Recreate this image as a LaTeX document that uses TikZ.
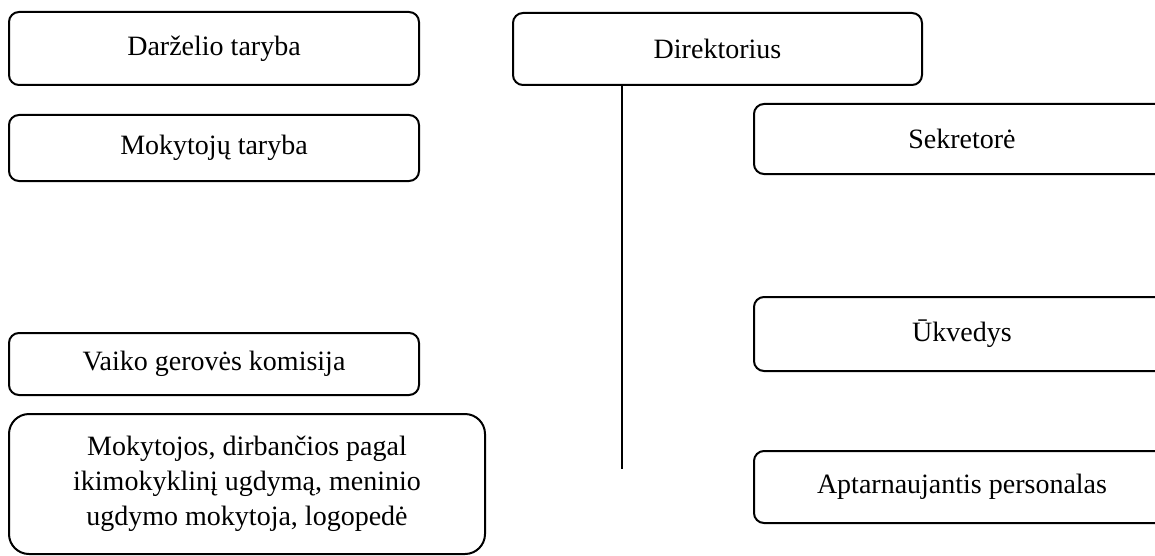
\documentclass[tikz,border=0pt]{standalone}
\usepackage{fontspec}
\setmainfont{Liberation Serif}
\usetikzlibrary{positioning}

\newcommand{\orgPlan}{
  \coordinate (c0) at (214,48.5);
  \coordinate (c1) at (214,148);
  \coordinate (c2) at (214,364);
  \coordinate (c3) at (247,484);
  \coordinate (c4) at (717.5,49);
  \coordinate (c5) at (962,139);
  \coordinate (c6) at (962,334);
  \coordinate (c7) at (962,487);
  \coordinate (lineend) at (622,469);
}

\begin{document}
\begin{tikzpicture}[x=0.5pt,y=-0.5pt,
    unit/.style={draw,line width=1pt,rounded corners=5pt,align=center,
      inner sep=0pt,font=\fontsize{14}{17.5}\selectfont},
    leftunit/.style={unit,minimum width=205pt},
    rightunit/.style={unit,minimum width=208pt}]
    \clip (0,0) rectangle (1155,556);
    \orgPlan

    \node [leftunit,minimum height=36.5pt] (taryba) at (c0) {Darželio taryba};

    \node [leftunit,minimum height=33pt] (mokytoju) at (c1) {Mokytojų taryba};

    \node [leftunit,minimum height=31pt] (komisija) at (c2) {Vaiko gerovės komisija};

    \node [unit,rounded corners=10pt,minimum width=238pt,
    minimum height=70pt] (mokytojos) at (c3)
    {Mokytojos, dirbančios pagal\\ikimokyklinį ugdymą, meninio\\ugdymo mokytoja, logopedė};

    \node [unit,minimum width=204.5pt,minimum height=36pt] (direktorius) at (c4) {Direktorius};

    \node [rightunit,minimum height=35pt] (sekretore) at (c5) {Sekretorė};

    \node [rightunit,minimum height=37pt] (ukvedys) at (c6) {Ūkvedys};

    \node [rightunit,minimum height=36pt] (personalas) at (c7) {Aptarnaujantis personalas};

    \draw [line width=1pt] (direktorius.south -| lineend) -- (lineend);
  \end{tikzpicture}
\end{document}
